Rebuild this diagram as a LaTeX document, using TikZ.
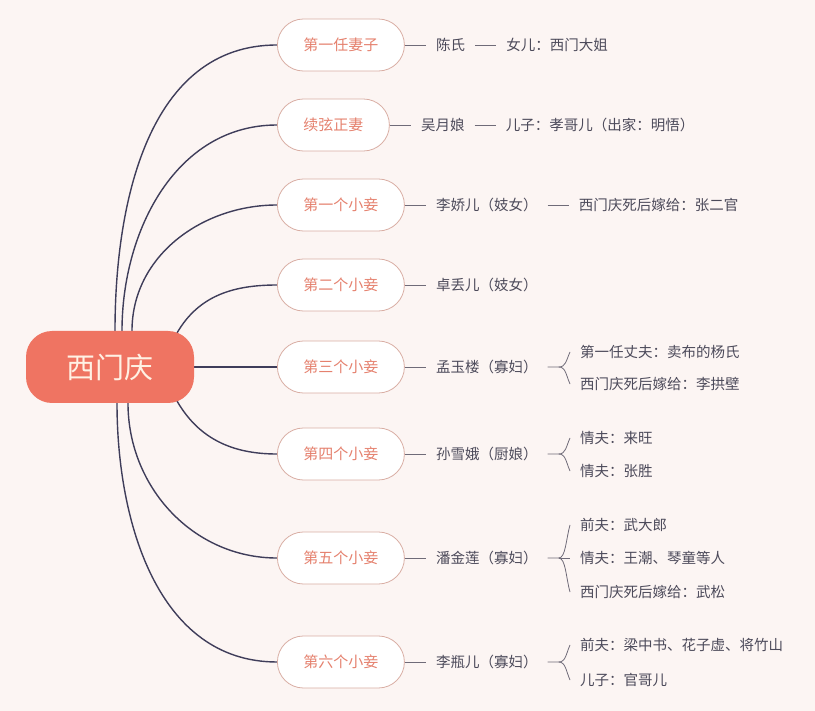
\documentclass[tikz,border=0pt]{standalone}
\usepackage{fontspec}
\newfontfamily\cjk{Noto Sans CJK SC}
\usetikzlibrary{positioning}
\usetikzlibrary{calc}

\definecolor{bgpink}{HTML}{FCF5F3}
\definecolor{rootred}{HTML}{EF7462}
\definecolor{rootcream}{HTML}{FFF1E4}
\definecolor{boxline}{HTML}{D9AEA4}
\definecolor{boxtext}{HTML}{E5816E}
\definecolor{navy}{HTML}{3F3D5A}
\definecolor{leaftext}{HTML}{4C4A5A}
\definecolor{leafline}{HTML}{6F6B78}

\pgfdeclarelayer{back}
\pgfdeclarelayer{edges}
\pgfsetlayers{back,edges,main}

\tikzset{
  rootbox/.style={fill=rootred, text=rootcream, rounded corners=26pt, minimum width=168pt, minimum height=72pt, font=\cjk\fontsize{29pt}{30pt}\selectfont},
  wifebox/.style={draw=boxline, line width=0.8pt, fill=white, text=boxtext, rounded corners=26pt, minimum height=52pt, inner xsep=26pt, anchor=west, font=\cjk\fontsize{15pt}{16pt}\selectfont},
  person/.style={text=leaftext, inner xsep=10pt, inner ysep=2pt, font=\cjk\fontsize{14.5pt}{16pt}\selectfont},
  branch/.style={navy, line width=1.4pt},
  twig/.style={leafline, line width=0.8pt}
}

\begin{document}
\begin{tikzpicture}[x=1pt,y=1pt]

        % Define canvas
        \useasboundingbox (0,0) rectangle (815,-711);
        \begin{pgfonlayer}{back}
        \fill[bgpink] (0,0) rectangle (815,-711);
        \end{pgfonlayer}

        \node[rootbox] (root) at (110,-367) {西门庆};

        \node[wifebox] (b1) at (277,-45) {第一任妻子};
        \node[wifebox] (b2) at (277,-125) {续弦正妻};
        \node[wifebox] (b3) at (277,-205) {第一个小妾};
        \node[wifebox] (b4) at (277,-285) {第二个小妾};
        \node[wifebox] (b5) at (277,-367) {第三个小妾};
        \node[wifebox] (b6) at (277,-454) {第四个小妾};
        \node[wifebox] (b7) at (277,-558) {第五个小妾};
        \node[wifebox] (b8) at (277,-662) {第六个小妾};

        \node[person, right=21pt of b1] (w1) {陈氏};
        \node[person, right=21pt of w1] (c1) {女儿：西门大姐};
        \node[person, right=21pt of b2] (w2) {吴月娘};
        \node[person, right=21pt of w2] (c2) {儿子：孝哥儿（出家：明悟）};
        \node[person, right=21pt of b3] (w3) {李娇儿（妓女）};
        \node[person, right=21pt of w3] (c3) {西门庆死后嫁给：张二官};
        \node[person, right=21pt of b4] (w4) {卓丢儿（妓女）};
        \node[person, right=21pt of b5] (w5) {孟玉楼（寡妇）};
        \node[person, right=21pt of b6] (w6) {孙雪娥（厨娘）};
        \node[person, right=21pt of b7] (w7) {潘金莲（寡妇）};
        \node[person, right=21pt of b8] (w8) {李瓶儿（寡妇）};

        \node[person, anchor=west] (c51) at (570,-352) {第一任丈夫：卖布的杨氏};
        \node[person, anchor=west] (c52) at (570,-384) {西门庆死后嫁给：李拱壁};
        \node[person, anchor=west] (c61) at (570,-438) {情夫：来旺};
        \node[person, anchor=west] (c62) at (570,-471) {情夫：张胜};
        \node[person, anchor=west] (c71) at (570,-525) {前夫：武大郎};
        \node[person, anchor=west] (c72) at (570,-558) {情夫：王潮、琴童等人};
        \node[person, anchor=west] (c73) at (570,-592) {西门庆死后嫁给：武松};
        \node[person, anchor=west] (c81) at (570,-645) {前夫：梁中书、花子虚、将竹山};
        \node[person, anchor=west] (c82) at (570,-680) {儿子：官哥儿};

        \coordinate (j5) at ($(w5.east)+(11,0)$);
        \coordinate (j6) at ($(w6.east)+(11,0)$);
        \coordinate (j7) at ($(w7.east)+(11,0)$);
        \coordinate (j8) at ($(w8.east)+(11,0)$);

        \begin{pgfonlayer}{edges}
        \draw[branch] ([xshift=5pt]root.north) to[out=90,in=180] (b1.west);
        \draw[branch] ([xshift=12pt]root.north) to[out=90,in=180] (b2.west);
        \draw[branch] ([xshift=22pt]root.north) to[out=90,in=180] (b3.west);
        \draw[branch] ($(root.center)+(67,34)$) to[out=60,in=180] (b4.west);
        \draw[branch] (root.east) -- (b5.west);
        \draw[branch] ($(root.center)+(67,-34)$) to[out=-60,in=180] (b6.west);
        \draw[branch] ([xshift=18pt]root.south) to[out=-90,in=180] (b7.west);
        \draw[branch] ([xshift=7pt]root.south) to[out=-90,in=180] (b8.west);
        \end{pgfonlayer}

        \draw[twig] (b1.east) -- (w1.west);
        \draw[twig] (w1.east) -- (c1.west);
        \draw[twig] (b2.east) -- (w2.west);
        \draw[twig] (w2.east) -- (c2.west);
        \draw[twig] (b3.east) -- (w3.west);
        \draw[twig] (w3.east) -- (c3.west);
        \draw[twig] (b4.east) -- (w4.west);
        \draw[twig] (b5.east) -- (w5.west);
        \draw[twig] (b6.east) -- (w6.west);
        \draw[twig] (b7.east) -- (w7.west);
        \draw[twig] (b8.east) -- (w8.west);

        % braces
        \draw[twig] (w5.east) -- (j5) .. controls +(7,0) and +(-4,-9) .. (c51.west);
        \draw[twig] (j5) .. controls +(7,0) and +(-4,9) .. (c52.west);
        \draw[twig] (w6.east) -- (j6) .. controls +(7,0) and +(-4,-9) .. (c61.west);
        \draw[twig] (j6) .. controls +(7,0) and +(-4,9) .. (c62.west);
        \draw[twig] (w7.east) -- (j7) .. controls +(7,0) and +(-4,-14) .. (c71.west);
        \draw[twig] (j7) -- (c72.west);
        \draw[twig] (j7) .. controls +(7,0) and +(-4,14) .. (c73.west);
        \draw[twig] (w8.east) -- (j8) .. controls +(7,0) and +(-4,-9) .. (c81.west);
        \draw[twig] (j8) .. controls +(7,0) and +(-4,9) .. (c82.west);
    \end{tikzpicture}
\end{document}
